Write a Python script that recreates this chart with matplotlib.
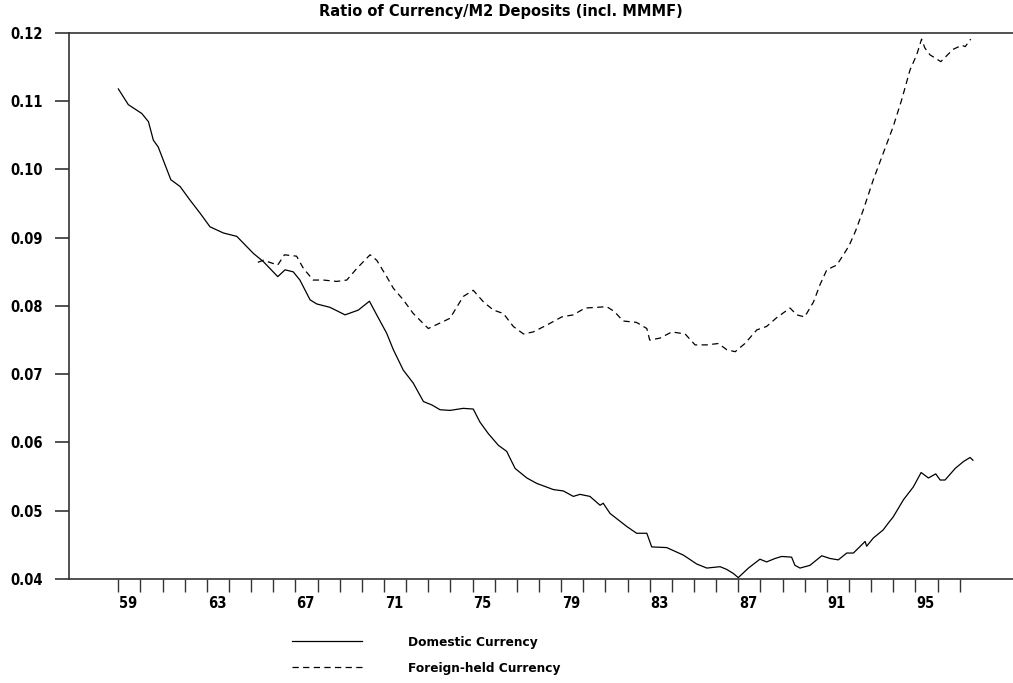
import numpy as np
import matplotlib
matplotlib.use("Agg")
import matplotlib.pyplot as plt
from matplotlib.ticker import FixedLocator, FormatStrFormatter

plt.rcParams['font.family'] = ['Liberation Sans Narrow', 'DejaVu Sans']
plt.rcParams['font.stretch'] = 'condensed'
plt.rcParams['font.weight'] = 'bold'

# valores (anio, ratio)
dom_year = [59.0, 59.45, 60.06, 60.36, 60.58, 60.8, 61.37, 61.79, 62.24, 62.69,
            63.14, 63.74, 64.35, 64.5, 65.1, 65.55, 66.2, 66.53, 66.9, 67.2,
            67.66, 67.96, 68.56, 69.24, 69.84, 70.34, 70.67, 71.12, 71.42, 71.87,
            72.32, 72.78, 73.16, 73.53, 73.98, 74.58, 75.03, 75.33, 75.71, 76.16,
            76.54, 76.92, 77.45, 77.9, 78.65, 79.1, 79.55, 79.85, 80.3, 80.76,
            80.9, 81.21, 81.96, 82.41, 82.87, 83.09, 83.77, 84.52, 85.12, 85.58,
            86.18, 86.48, 86.78, 87.0, 87.46, 87.98, 88.28, 88.66, 88.96, 89.41,
            89.56, 89.79, 90.24, 90.77, 91.15, 91.52, 91.9, 92.2, 92.42, 92.73,
            92.8, 93.1, 93.55, 93.78, 94.0, 94.46, 94.91, 95.26, 95.59, 95.92,
            96.12, 96.34, 96.8, 97.17, 97.47, 97.6]
dom_val = [0.1118, 0.1095, 0.1082, 0.1070, 0.1043, 0.1033, 0.0985, 0.0975, 0.0955, 0.0936,
           0.0916, 0.0907, 0.0902, 0.0897, 0.0877, 0.0865, 0.0843, 0.0853, 0.0850, 0.0838,
           0.0809, 0.0803, 0.0798, 0.0787, 0.0794, 0.0807, 0.0787, 0.0760, 0.0736, 0.0706,
           0.0687, 0.0660, 0.0655, 0.0648, 0.0647, 0.0650, 0.0649, 0.0630, 0.0613, 0.0596,
           0.0587, 0.0562, 0.0548, 0.0540, 0.0531, 0.0529, 0.0521, 0.0524, 0.0521, 0.0508,
           0.0511, 0.0496, 0.0477, 0.0467, 0.0467, 0.0447, 0.0446, 0.0435, 0.0422, 0.0416,
           0.0418, 0.0414, 0.0408, 0.0402, 0.0416, 0.0429, 0.0425, 0.0430, 0.0433, 0.0432,
           0.0420, 0.0416, 0.0420, 0.0434, 0.0430, 0.0428, 0.0438, 0.0438, 0.0445, 0.0455,
           0.0448, 0.0460, 0.0472, 0.0482, 0.0491, 0.0516, 0.0535, 0.0556, 0.0548, 0.0554,
           0.0545, 0.0545, 0.0562, 0.0572, 0.0578, 0.0574]

for_year = [65.3, 65.55, 66.2, 66.5, 67.05, 67.36, 67.8, 68.26, 68.86, 69.32,
            69.77, 70.37, 70.67, 71.12, 71.42, 71.87, 72.32, 73.0, 73.53, 73.98,
            74.58, 75.03, 75.49, 75.94, 76.39, 76.84, 77.3, 77.74, 78.35, 79.03,
            79.55, 80.08, 80.6, 81.06, 81.4, 81.8, 82.4, 82.87, 83.0, 83.47,
            84.0, 84.6, 85.05, 85.58, 86.1, 86.48, 86.86, 87.3, 87.84, 88.28,
            88.74, 89.34, 89.64, 90.0, 90.4, 90.69, 91.0, 91.45, 91.75, 92.0,
            92.3, 92.65, 93.1, 93.55, 94.0, 94.38, 94.76, 95.06, 95.28, 95.43,
            95.66, 96.15, 96.7, 97.1, 97.25, 97.5]
for_val = [0.0864, 0.0867, 0.0860, 0.0875, 0.0873, 0.0855, 0.0838, 0.0838, 0.0836, 0.0838,
           0.0855, 0.0875, 0.0867, 0.0843, 0.0826, 0.0809, 0.0789, 0.0767, 0.0775, 0.0782,
           0.0814, 0.0823, 0.0806, 0.0794, 0.0789, 0.0770, 0.0759, 0.0762, 0.0772, 0.0784,
           0.0787, 0.0797, 0.0798, 0.0799, 0.0792, 0.0778, 0.0776, 0.0767, 0.0750, 0.0753,
           0.0762, 0.0759, 0.0743, 0.0743, 0.0745, 0.0736, 0.0733, 0.0745, 0.0765, 0.0770,
           0.0783, 0.0797, 0.0787, 0.0784, 0.0806, 0.0831, 0.0853, 0.0860, 0.0875, 0.0888,
           0.0910, 0.0941, 0.0985, 0.1024, 0.1063, 0.1102, 0.1146, 0.1168, 0.1191, 0.1178,
           0.1168, 0.1158, 0.1176, 0.1182, 0.1180, 0.1191]

year_ticks = np.arange(59, 98)
label_years = [59, 63, 67, 71, 75, 79, 83, 87, 91, 95]
y_ticks = [0.04, 0.05, 0.06, 0.07, 0.08, 0.09, 0.10, 0.11, 0.12]

TITULO = "Ratio of Currency/M2 Deposits (incl. MMMF)"


def main():
    fig = plt.figure(figsize=(10.13, 6.83), dpi=100)
    ax = fig.add_axes([0.0681, 0.1523, 0.9319, 0.7994])

    ax.plot(dom_year, dom_val, color='black', lw=0.9, label="Domestic Currency")
    ax.plot(for_year, for_val, color='black', lw=0.9, dashes=(5, 3.5),
            label="Foreign-held Currency")

    ax.set_xlim(56.77, 99.41)
    ax.set_ylim(0.04, 0.12)

    # ticks de anio en los bordes, etiquetas centradas en el anio
    ax.xaxis.set_minor_locator(FixedLocator(year_ticks))
    ax.xaxis.set_major_locator(FixedLocator([y + 0.45 for y in label_years]))
    ax.set_xticklabels([str(y) for y in label_years])
    ax.tick_params(axis='x', which='major', length=0, pad=12, labelsize=10.5)
    ax.tick_params(axis='x', which='minor', length=9, width=1, color='#333333',
                   direction='out')

    ax.set_yticks(y_ticks)
    ax.yaxis.set_major_formatter(FormatStrFormatter('%.2f'))
    ax.tick_params(axis='y', length=10, width=1.2, color='#333333', pad=9,
                   labelsize=10.5)

    ax.spines['right'].set_visible(False)
    for s in ['left', 'top', 'bottom']:
        ax.spines[s].set_color('#333333')
        ax.spines[s].set_linewidth(1.2)

    fig.text(0.4946, 0.983, TITULO, ha='center', va='center', fontsize=11.7,
             fontweight='bold')

    ax.legend(loc='center left', bbox_to_anchor=(0.2883, 0.0403),
              bbox_transform=fig.transFigure, frameon=False, fontsize=9.7,
              handlelength=5.2, handletextpad=3.4, labelspacing=0.95,
              borderpad=0, borderaxespad=0)

    fig.savefig("out.png", dpi=100)


main()
